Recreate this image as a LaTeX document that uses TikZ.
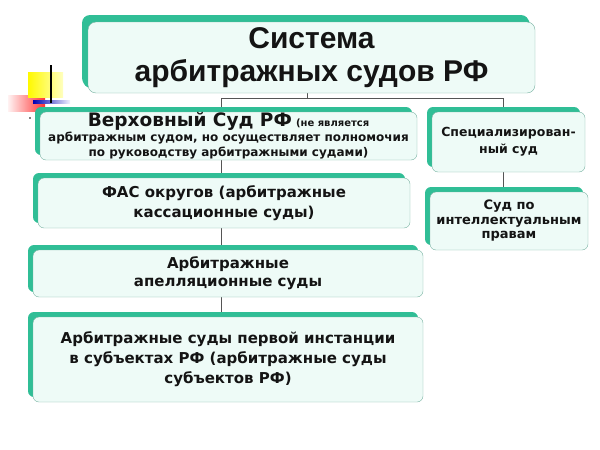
\documentclass[tikz,border=0pt]{standalone}
\usepackage{fontspec}
\setmainfont{DejaVu Sans}
\newfontfamily\titlefont{Liberation Sans}
\usetikzlibrary{shadows,backgrounds}

\definecolor{boxteal}{RGB}{48,190,150}
\definecolor{boxfill}{RGB}{238,251,247}
\definecolor{boxline}{RGB}{120,178,162}
\definecolor{linkgray}{RGB}{85,85,85}

\begin{document}
\begin{tikzpicture}[
            x = 1pt, y = -1pt, % one unit = one pixel, y grows downwards
            court/.style = {draw=boxline, fill=boxfill, thin, rounded corners=6pt,
                general shadow={fill=boxteal, shadow xshift=-5pt, shadow yshift=5pt},
                align=center, inner sep=0pt, text=black!92},
            link/.style = {draw=linkgray, line width=0.8pt}
        ]
	\useasboundingbox (0,0) rectangle (600,450);

	% corner ornament
	\shade[left color=red!5, right color=red!80] (8,95) rectangle (45,111);
	\shade[left color=yellow!95!orange, right color=yellow!25] (28,72) rectangle (63,97);
	\shade[left color=blue!70!black, right color=blue!5] (33,100) rectangle (70,103);
	\draw[line width=1.4pt] (51,65) -- (51,103);
	\fill (30,118) circle (0.9);

	\node[court, rounded corners=8pt, minimum width=447pt, minimum height=71pt,
	      general shadow={fill=boxteal, shadow xshift=-6pt, shadow yshift=7pt},
	      font=\titlefont\bfseries\fontsize{30}{33}\selectfont]
	      (title) at (311.5,57.5) {\raisebox{-2pt}{Система}\\\raisebox{-2pt}{арбитражных судов РФ}};

	\node[court, minimum width=377pt, minimum height=48pt,
	      font=\bfseries\fontsize{12}{15}\selectfont] (vs) at (228.5,136)
	      {{\fontsize{18.5}{20}\selectfont Верховный Суд РФ} {\fontsize{10}{12}\selectfont (не является}\\
	       арбитражным судом, но осуществляет полномочия\\
	       по руководству арбитражными судами)};
	\node[court, minimum width=372pt, minimum height=50pt,
	      font=\bfseries\fontsize{15}{20}\selectfont] (fas) at (224,203)
	      {ФАС округов (арбитражные\\кассационные суды)};
	\node[court, minimum width=390pt, minimum height=47pt,
	      font=\bfseries\fontsize{15}{18}\selectfont] (app) at (228,273.5)
	      {Арбитражные\\апелляционные суды};
	\node[court, minimum width=390pt, minimum height=85pt,
	      font=\bfseries\fontsize{15}{20}\selectfont] (bot) at (228,359.5)
	      {Арбитражные суды первой инстанции\\в субъектах РФ (арбитражные суды\\субъектов РФ)};

	\node[court, minimum width=153pt, minimum height=60pt,
	      font=\bfseries\fontsize{12.5}{17}\selectfont] (spec) at (508.5,142)
	      {Специализирован-\\ный суд};
	\node[court, minimum width=158pt, minimum height=58pt,
	      font=\bfseries\fontsize{13}{14.5}\selectfont] (ip) at (509,221)
	      {Суд по\\интеллектуальным\\правам};

	\coordinate (fork) at (307,98);
	\coordinate (spine) at (221,0);
	\coordinate (side) at (503,0);

	\begin{scope}[on background layer]
		\draw[link] (fork |- title.south) -- (fork);
		\draw[link] (spine |- vs.north) -- (spine |- fork) -- (side |- fork) -- (side |- spec.north);
		\draw[link] (spine |- vs.south) -- (spine |- fas.north);
		\draw[link] (spine |- fas.south) -- (spine |- app.north);
		\draw[link] (spine |- app.south) -- (spine |- bot.north);
		\draw[link] (side |- spec.south) -- (side |- ip.north);
	\end{scope}

\end{tikzpicture}
\end{document}
